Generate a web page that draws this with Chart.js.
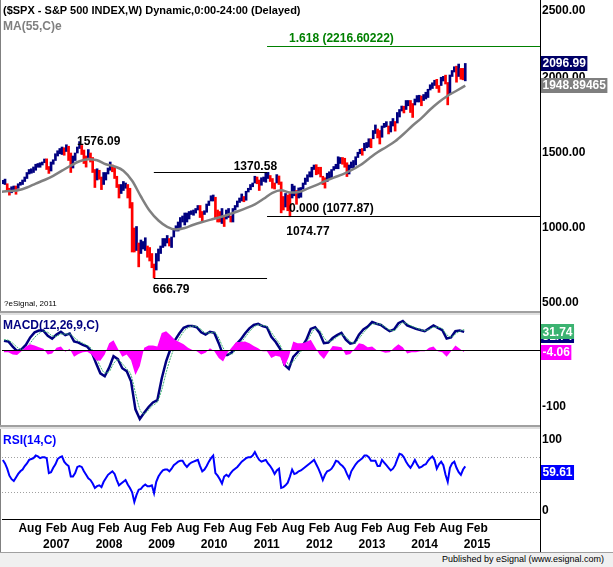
<!DOCTYPE html>
<html>
<head>
<meta charset="utf-8">
<script src="https://cdn.jsdelivr.net/npm/chart.js@4.4.1/dist/chart.umd.min.js"></script>
<style>
  body { margin: 0; background: #fff; }
  #wrap { position: relative; width: 613px; height: 567px; overflow: hidden; background: #fff;
          font-family: "Liberation Sans", Arial, sans-serif; }
  canvas { position: absolute; left: 0; }
  .txt { position: absolute; white-space: nowrap; }
  .rule { position: absolute; }
</style>
</head>
<body>
<div id="wrap">
  <canvas id="price" width="613" height="311" style="top:0"></canvas>
  <canvas id="macd" width="613" height="110" style="top:315px"></canvas>
  <canvas id="rsi" width="613" height="124" style="top:429px"></canvas>

  <!-- frame and panel separators -->
  <div class="rule" style="left:0;top:0;width:1px;height:553px;background:#808080"></div>
  <div class="rule" style="left:0;top:311px;width:540px;height:2px;background:#a0a0a0"></div>
  <div class="rule" style="left:0;top:313px;width:540px;height:2px;background:#e0e0e0"></div>
  <div class="rule" style="left:0;top:425px;width:540px;height:2px;background:#a0a0a0"></div>
  <div class="rule" style="left:0;top:427px;width:540px;height:2px;background:#e0e0e0"></div>
  <div class="rule" style="left:540px;top:0;width:1px;height:553px;background:#000"></div>
  <div class="rule" style="left:0;top:552px;width:613px;height:15px;background:#f0f0f0;border-top:1px solid #a0a0a0"></div>

  <div class="txt" style="left:3px;top:4px;font:bold 11px/13px 'Liberation Sans',Arial;color:#000">($SPX - S&amp;P 500 INDEX,W) Dynamic,0:00-24:00 (Delayed)</div>
  <div class="txt" style="left:3px;top:19px;font:bold 12px/14px 'Liberation Sans',Arial;color:#808080">MA(55,C)e</div>
  <div class="txt" style="left:4px;top:299px;font:8px/10px 'Liberation Sans',Arial;color:#000">?eSignal, 2011</div>
  <div class="txt" style="left:3px;top:318px;font:bold 12px/14px 'Liberation Sans',Arial;color:#000080">MACD(12,26,9,C)</div>
  <div class="txt" style="left:3px;top:433px;font:bold 12px/14px 'Liberation Sans',Arial;color:#0000ff">RSI(14,C)</div>
  <div class="txt" style="right:9px;top:554px;font:9px/10px 'Liberation Sans',Arial;color:#000">Published by eSignal (www.esignal.com)</div>
</div>

<script>
// time is counted in months since Jan 2006 (weekly chart, drawn here as half-month bars)
const firstBarMonth = 3.75;   // second half of April 2006
const barStep = 0.5;

// half-month price ranges, Apr 2006 .. Feb 2015
const barLows = [
  1295,1290,1245,1219,1235,1245,1225,1265,1285,1290,1310,1330,1360,1365,1370,1385,1405,
  1405,1420,1435,1390,1364,1380,1425,1450,1480,1495,1490,1485,1510,1450,1370,1400,1450,1500,1530,1490,1430,1406,1470,1440,
  1370,1270,1320,1325,1256,1290,1320,1360,1385,1375,1330,1270,1200,1230,1250,1265,1200,1133,840,840,850,741,830,860,
  850,805,780,735,667,720,780,830,870,880,900,880,870,940,980,980,1000,1040,1020,1040,1060,1090,1085,1100,
  1120,1070,1045,1090,1105,1150,1180,1180,1065,1040,1040,1030,1010,1060,1070,1040,1040,1120,1140,1170,1180,1175,1185,1240,
  1255,1275,1300,1295,1250,1285,1310,1305,1330,1310,1265,1260,1300,1290,1101,1120,1140,1115,1075,1200,1215,1158,1200,1205,
  1260,1290,1310,1340,1340,1390,1355,1360,1340,1290,1266,1310,1325,1330,1385,1395,1395,1430,1425,1405,1343,1360,1400,1400,
  1420,1470,1495,1485,1515,1535,1540,1535,1595,1630,1600,1560,1605,1670,1675,1627,1640,1680,1646,1700,1740,1780,1767,1790,
  1815,1770,1737,1820,1840,1840,1815,1850,1860,1870,1920,1930,1950,1930,1904,1950,1980,1960,1821,1890,2010,2040,1972,2010,
  1992,1988,1981
];
const barHighs = [
  1318,1326,1295,1265,1275,1280,1280,1295,1305,1320,1340,1370,1390,1395,1407,1425,1430,
  1435,1440,1460,1461,1410,1440,1455,1495,1515,1530,1540,1535,1555,1545,1500,1480,1500,1540,1576,1550,1520,1480,1523,1500,
  1470,1390,1395,1385,1340,1370,1370,1400,1440,1420,1405,1345,1290,1290,1310,1300,1290,1265,1170,1000,1010,900,920,910,
  935,880,870,830,760,830,860,880,930,930,950,930,940,990,1015,1040,1070,1080,1100,1100,1110,1115,1120,1130,
  1150,1150,1110,1115,1160,1180,1215,1220,1205,1120,1110,1130,1080,1120,1130,1080,1130,1150,1180,1200,1227,1210,1245,1265,
  1290,1300,1345,1340,1320,1335,1340,1365,1371,1350,1330,1300,1356,1347,1307,1210,1230,1220,1230,1292,1280,1250,1267,1270,
  1300,1333,1355,1375,1405,1420,1422,1405,1405,1345,1335,1365,1375,1390,1410,1425,1475,1470,1470,1465,1435,1420,1440,1450,
  1475,1505,1525,1530,1565,1570,1595,1595,1650,1687,1660,1650,1680,1698,1709,1680,1710,1730,1710,1770,1790,1813,1812,1850,
  1850,1850,1830,1860,1883,1885,1880,1890,1905,1925,1955,1968,1985,1991,1950,2005,2011,2019,1970,2020,2050,2075,2079,2093,
  2064,2064,2097
];
const lastClose = 2096.99;

// MA(55) read every two months, starting just left of the plot
const maStart = 3.25;
const maStep = 2;
const maValues = [1241,1246,1252,1270,1296,1320,1348,1382,1416,1445,1459,1452,1425,1410,1382,1315,1210,1115,
  1050,1008,990,1000,1022,1040,1056,1072,1090,1110,1132,1158,1195,1235,1252,1236,1240,1262,1286,1312,1336,1358,
  1385,1418,1462,1505,1540,1578,1628,1683,1733,1790,1840,1882,1915,1948.89465];

// MACD(12,26,9) read once a month, May 2006 .. Feb 2015
const oscStart = 4;
const oscStep = 1;
const macdValues = [16,15,6,-2,1,9,22,31,34,34, 25,20,27,32,26,29,15,13,9,6, -3,-23,-41,-46,-31,-11,-16,-32,-37,-55,
  -104,-121,-110,-100,-92,-88,-50,-20,2,17, 29,39,42,42,40,31,27,32,30,12, -9,-9,-4,10,18,29,38,44,46,42,
  40,23,14,2,-26,-33,-12,-4,6,18, 37,40,30,12,13,21,26,30,18,11, 13,27,36,41,49,46,44,38,33,36,
  47,51,43,40,37,35,33,38,43,39, 35,20,22,33,34,31.74];
const signalValues = [18,17,12,5,1,3,12,22,29,33, 31,25,24,28,28,28,22,16,12,8, 2,-12,-29,-40,-38,-24,-17,-24,-33,-44,
  -75,-104,-112,-105,-97,-91,-70,-40,-14,6, 20,32,39,42,41,36,30,30,31,21, 4,-6,-7,2,12,22,32,40,44,43,
  41,31,20,9,-10,-26,-20,-10,0,11, 27,37,35,22,15,17,23,27,23,15, 12,20,30,38,45,46,45,40,35,34,
  41,48,46,42,39,36,34,36,40,40, 37,27,23,28,33,35.8];
const histValues = [-4,-4,-8,-9,-2,6,10,8,5,2, -8,-6,4,6,-3,2,-12,-7,-4,-3, -8,-18,-19,-8,12,17,2,-12,-8,-18,
  -44,-28,4,8,8,6,30,33,26,18, 14,10,4,0,-2,-8,-5,3,-2,-14, -20,-5,5,14,14,15,12,7,3,-2,
  -2,-14,-10,-12,-30,-12,15,12,12,14, 18,5,-8,-16,-4,7,6,5,-9,-7, 2,12,10,5,6,0,-2,-5,-4,4,
  10,5,-6,-4,-4,-2,-2,4,6,-2, -4,-12,-2,8,2,-4.06];

// RSI(14), on the half-month bar grid
const rsiValues = [67,63,57,49,45,43,47,51,54,56, 60,63,67,68,69,72,71,69,70,70, 69,52,53,58,62,68,70,71,65,62,
  60,48,48,52,59,60,59,54,50,46, 44,40,35,37,38,36,42,46,50,52, 54,51,44,38,40,42,44,39,35,30,
  19,27,33,34,37,39,37,37,38,29, 42,48,52,55,56,56,54,57,61,63, 65,66,66,62,59,62,64,65,66,67,
  60,54,56,60,65,69,72,52,49,45, 40,48,50,48,52,55,57,59,62,65, 67,69,70,70,72,76,71,67,65,66,
  67,63,60,56,51,55,57,35,36,38, 41,48,56,51,52,54,55,57,59,61, 63,65,67,62,57,51,44,50,54,55,
  57,61,66,65,62,60,57,51,46,54, 58,62,65,67,69,72,72,70,66,66, 66,60,60,67,64,61,58,55,57,61,
  68,74,73,70,65,61,58,62,67,62, 58,59,61,62,66,69,71,67,57,62, 65,61,50,42,58,63,65,58,53,50,
  56,59.61];

// axis ticks
const xTicks = ['2006-08','2007-02','2007-08','2008-02','2008-08','2009-02','2009-08','2010-02','2010-08',
  '2011-02','2011-08','2012-02','2012-08','2013-02','2013-08','2014-02','2014-08','2015-02'];
const priceTicks = [500, 1000, 1500, 2000];
const priceEdgeTicks = [2500];
const macdTicks = [-100];
const rsiTicks = [50];
const rsiEdgeTicks = [100, 0];
const rsiBands = [70, 30];

// drawn levels (months: Mar 6 2009 low, May 2 2011 high)
const levelValues = [1370.58, 666.79];
const levelStarts = [38.2, 38.2];
const levelEnds = [64.03, 64.03];
const fibRatios = [1.618, 0];
const fibValues = [2216.60222, 1077.87];
const fibStart = 64.03;
const calloutValues = [1576.09, 1370.58, 666.79, 1074.77];
const calloutMonths = [21.35, 64.03, 38.2, 69.1];

const monthNames = ['Jan','Feb','Mar','Apr','May','Jun','Jul','Aug','Sep','Oct','Nov','Dec'];
const FONT = 'bold 12px "Liberation Sans", Arial, sans-serif';
const X_MIN = 3.56, X_MAX = 126.3;
const UP = '#000080', DOWN = '#ff0000';

Chart.defaults.font.family = '"Liberation Sans", Arial, sans-serif';

function monthOf(s) {
    const [y, m] = s.split('-').map(Number);
    return (y - 2006) * 12 + (m - 1);
}

function flag(ctx, x, y, text, bg) {
    ctx.save();
    ctx.font = FONT;
    const w = ctx.measureText(text).width + 3;
    ctx.fillStyle = bg;
    ctx.fillRect(x, Math.round(y - 7.5), w, 15);
    ctx.fillStyle = '#fff';
    ctx.textAlign = 'left';
    ctx.textBaseline = 'middle';
    ctx.fillText(text, x + 1.5, y + 0.5);
    ctx.restore();
}

// labels at the very top or bottom of a panel are pushed inside it
function edgeLabel(chart, v, text) {
    const y0 = chart.scales.y.getPixelForValue(v);
    const a = chart.chartArea;
    const y = Math.min(Math.max(y0, a.top + 11), a.bottom - 8);
    const ctx = chart.ctx;
    ctx.save();
    ctx.font = FONT;
    ctx.fillStyle = '#000';
    ctx.textAlign = 'left';
    ctx.textBaseline = 'middle';
    ctx.fillText(text, a.right + 2, y);
    ctx.restore();
}

function yAxis(min, max, ticks, fmt) {
    return {
        position: 'right', min: min, max: max,
        grid: { display: false, drawTicks: false },
        border: { display: true, color: '#000' },
        afterBuildTicks: s => { s.ticks = ticks.map(v => ({ value: v })); },
        afterFit: s => { s.width = 73; s.paddingTop = 0; s.paddingBottom = 0; },
        ticks: { padding: 2, color: '#000', font: { size: 12, weight: 'bold' }, callback: fmt }
    };
}

const hiddenX = { type: 'linear', min: X_MIN, max: X_MAX, offset: false, display: false };

// ---------- price panel ----------
const pricePlugin = {
    id: 'priceMarks',
    afterDatasetsDraw(chart) {
        const ctx = chart.ctx, xs = chart.scales.x, ys = chart.scales.y, a = chart.chartArea;
        ctx.save();
        ctx.lineWidth = 1;
        levelValues.forEach((v, i) => {
            const y = Math.round(ys.getPixelForValue(v)) + 0.5;
            ctx.strokeStyle = '#000';
            ctx.beginPath();
            ctx.moveTo(xs.getPixelForValue(levelStarts[i]), y);
            ctx.lineTo(xs.getPixelForValue(levelEnds[i]), y);
            ctx.stroke();
        });
        fibValues.forEach((v, i) => {
            const y = Math.round(ys.getPixelForValue(v)) + 0.5;
            const x0 = xs.getPixelForValue(fibStart);
            const col = fibRatios[i] === 0 ? '#000' : '#008000';
            ctx.strokeStyle = col;
            ctx.beginPath();
            ctx.moveTo(x0, y);
            ctx.lineTo(a.right, y);
            ctx.stroke();
            ctx.font = FONT;
            ctx.fillStyle = col;
            ctx.textAlign = 'left';
            ctx.textBaseline = 'middle';
            ctx.fillText(fibRatios[i].toFixed(3) + ' (' + v + ')', x0 + 22, y - 8);
        });
        ctx.font = FONT;
        ctx.fillStyle = '#000';
        ctx.textBaseline = 'middle';
        calloutValues.forEach((v, i) => {
            const x = xs.getPixelForValue(calloutMonths[i]);
            const y = ys.getPixelForValue(v);
            const t = v.toFixed(2);
            if (i === 0) { ctx.textAlign = 'left'; ctx.fillText(t, x - 3, y); }
            if (i === 1) { ctx.textAlign = 'right'; ctx.fillText(t, x + 10, y - 6); }
            if (i === 2) { ctx.textAlign = 'left'; ctx.fillText(t, x - 1, y + 12); }
            if (i === 3) { ctx.textAlign = 'left'; ctx.fillText(t, x - 3, y + 15); }
        });
        ctx.restore();
    },
    afterDraw(chart) {
        const ys = chart.scales.y, a = chart.chartArea;
        priceEdgeTicks.forEach(v => edgeLabel(chart, v, v.toFixed(2)));
        flag(chart.ctx, a.right + 1, ys.getPixelForValue(lastClose), lastClose.toFixed(2), '#000066');
        const ma = maValues[maValues.length - 1];
        flag(chart.ctx, a.right + 1, ys.getPixelForValue(ma), String(ma), '#7f7f7f');
    }
};

const barColors = barLows.map((lo, i) =>
    i === 0 || lo + barHighs[i] >= barLows[i - 1] + barHighs[i - 1] ? UP : DOWN);

new Chart(document.getElementById('price'), {
    type: 'bar',
    data: {
        datasets: [
            {
                type: 'line',
                data: maValues.map((v, i) => ({ x: maStart + i * maStep, y: v })),
                borderColor: '#808080', borderWidth: 2.5, pointRadius: 0,
                cubicInterpolationMode: 'monotone', order: 0
            },
            {
                type: 'bar',
                data: barLows.map((lo, i) => ({ x: firstBarMonth + i * barStep, y: [lo, barHighs[i]] })),
                backgroundColor: barColors, borderWidth: 0, barThickness: 2, order: 1
            }
        ]
    },
    options: {
        responsive: false, animation: false, devicePixelRatio: 1,
        layout: { padding: { left: 2, right: 0, top: 0, bottom: 0 } },
        plugins: { legend: { display: false }, tooltip: { enabled: false } },
        scales: {
            x: hiddenX,
            y: yAxis(446.7, 2520, priceTicks, v => Number(v).toFixed(2))
        }
    },
    plugins: [pricePlugin]
});

// ---------- MACD panel ----------
const oscX = i => oscStart + i * oscStep;
const macdPlugin = {
    id: 'macdMarks',
    afterDatasetDraw(chart, args) {
        if (args.index !== 0) return;
        const ctx = chart.ctx, a = chart.chartArea;
        const y = Math.round(chart.scales.y.getPixelForValue(0)) + 0.5;
        ctx.save();
        ctx.strokeStyle = '#000';
        ctx.lineWidth = 1;
        ctx.beginPath();
        ctx.moveTo(a.left, y);
        ctx.lineTo(a.right, y);
        ctx.stroke();
        ctx.restore();
    },
    afterDraw(chart) {
        const ys = chart.scales.y, a = chart.chartArea;
        const m = macdValues[macdValues.length - 1];
        const h = histValues[histValues.length - 1];
        flag(chart.ctx, a.right + 1, ys.getPixelForValue(m) + 4, m.toFixed(2), '#000080');
        flag(chart.ctx, a.right + 1, ys.getPixelForValue(m), m.toFixed(2), '#3cb371');
        flag(chart.ctx, a.right + 1, ys.getPixelForValue(h), h.toFixed(2), '#ff00ff');
    }
};

new Chart(document.getElementById('macd'), {
    type: 'line',
    data: {
        datasets: [
            {
                data: histValues.map((v, i) => ({ x: oscX(i), y: v })),
                borderWidth: 0, pointRadius: 0, fill: 'origin',
                backgroundColor: '#ff00ff', borderColor: '#ff00ff'
            },
            {
                data: signalValues.map((v, i) => ({ x: oscX(i), y: v })),
                borderColor: '#3cb371', borderWidth: 1, borderDash: [2, 1], pointRadius: 0,
                cubicInterpolationMode: 'monotone'
            },
            {
                data: macdValues.map((v, i) => ({ x: oscX(i), y: v })),
                borderColor: '#000080', borderWidth: 2.5, pointRadius: 0
            }
        ]
    },
    options: {
        responsive: false, animation: false, devicePixelRatio: 1,
        layout: { padding: { left: 2, right: 0, top: 0, bottom: 0 } },
        plugins: { legend: { display: false }, tooltip: { enabled: false } },
        scales: {
            x: hiddenX,
            y: yAxis(-131.6, 61.4, macdTicks, v => String(v))
        }
    },
    plugins: [macdPlugin]
});

// ---------- RSI panel ----------
const rsiPlugin = {
    id: 'rsiMarks',
    beforeDatasetsDraw(chart) {
        const ctx = chart.ctx, a = chart.chartArea;
        ctx.save();
        ctx.strokeStyle = '#a0a0a0';
        ctx.lineWidth = 1;
        ctx.setLineDash([1, 2]);
        rsiBands.forEach(v => {
            const y = Math.round(chart.scales.y.getPixelForValue(v)) + 0.5;
            ctx.beginPath();
            ctx.moveTo(a.left, y);
            ctx.lineTo(a.right, y);
            ctx.stroke();
        });
        ctx.restore();
    },
    afterDraw(chart) {
        const a = chart.chartArea;
        rsiEdgeTicks.forEach(v => edgeLabel(chart, v, String(v)));
        const r = rsiValues[rsiValues.length - 1];
        flag(chart.ctx, a.right + 1, chart.scales.y.getPixelForValue(r) + 6, r.toFixed(2), '#0000ff');
    }
};

new Chart(document.getElementById('rsi'), {
    type: 'line',
    data: {
        datasets: [{
            data: rsiValues.map((v, i) => ({ x: firstBarMonth + i * barStep, y: v })),
            borderColor: '#0000ff', borderWidth: 2, pointRadius: 0
        }]
    },
    options: {
        responsive: false, animation: false, devicePixelRatio: 1,
        layout: { padding: { left: 2, right: 0, top: 0, bottom: 0 } },
        plugins: { legend: { display: false }, tooltip: { enabled: false } },
        scales: {
            x: {
                type: 'linear', min: X_MIN, max: X_MAX, offset: false,
                grid: { display: false, drawTicks: false },
                border: { display: true, color: '#000' },
                afterBuildTicks: s => { s.ticks = xTicks.map(t => ({ value: monthOf(t) })); },
                afterFit: s => { s.height = 34; s.paddingLeft = 0; s.paddingRight = 0; },
                ticks: {
                    autoSkip: false, maxRotation: 0, padding: 2, labelOffset: 13, color: '#000',
                    font: { size: 12, weight: 'bold', lineHeight: '16px' },
                    callback: (v, i) => {
                        const [y, m] = xTicks[i].split('-');
                        return [monthNames[Number(m) - 1], m === '02' ? y : ''];
                    }
                }
            },
            y: yAxis(-0.46, 102.3, rsiTicks, v => String(v))
        }
    },
    plugins: [rsiPlugin]
});
</script>
</body>
</html>
